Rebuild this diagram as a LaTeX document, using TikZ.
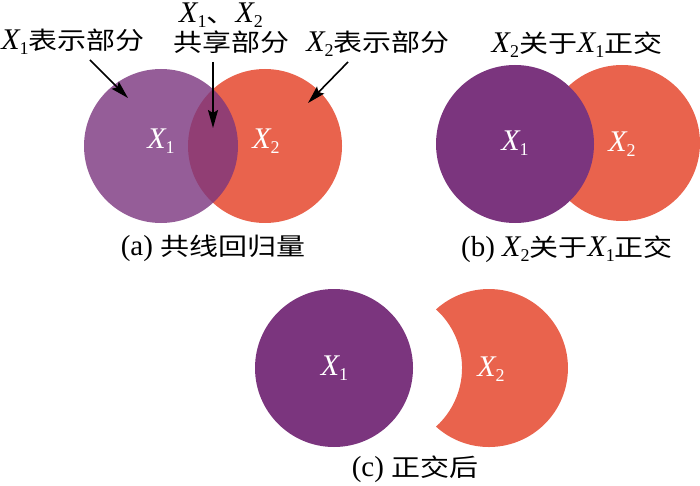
\documentclass[tikz,border=0pt]{standalone}
\usepackage{fontspec}
\setmainfont{Liberation Serif}
\newfontfamily\cjk{Noto Sans CJK SC}
\usetikzlibrary{arrows.meta}
\definecolor{purp}{RGB}{123,53,126}
\definecolor{oran}{RGB}{233,99,77}
\newcommand\zh[1]{{\cjk\scalebox{1}[0.84]{#1}}}
\newcommand\Xv[1]{{\fontsize{30}{30}\selectfont\textit{X}}\kern-1pt\raisebox{-5pt}[8pt][0pt]{\fontsize{18}{18}\selectfont #1}}
\begin{document}
\begin{tikzpicture}[x=1pt,y=1pt,
  lab/.style={font=\fontsize{29}{32}\selectfont, inner sep=0pt, anchor=base},
  inlab/.style={lab, text=white},
  pointer/.style={line width=1.6pt, -{Stealth[length=18pt,width=10pt,inset=3pt]}}]
\useasboundingbox (0,0) rectangle (700,485);

% ---------- (a) ----------
\fill[oran] (265,339) circle (77);
\fill[purp, opacity=0.8] (161,339) circle (77);
\node[inlab] (a1) at (161,336) {\Xv{1}};
\node[inlab] (a2) at (266,336) {\Xv{2}};
\node[lab] (la1) at (73,435) {\Xv{1}\zh{表示部分}};
\node[lab] (lsh1) at (221,462) {\Xv{1}\zh{、}\Xv{2}};
\node[lab] (lsh2) at (231,433) {\zh{共享部分}};
\node[lab] (la2) at (378,433) {\Xv{2}\zh{表示部分}};
\coordinate (p1s) at (90,425);  \coordinate (p1e) at (128,387);
\coordinate (p2s) at (213,423); \coordinate (p2e) at (213,357);
\coordinate (p3s) at (348,423); \coordinate (p3e) at (308,382);
\draw[pointer] (p1s) -- (p1e);
\draw[pointer] (p2s) -- (p2e);
\draw[pointer] (p3s) -- (p3e);
\node[lab] (capa) at (213,230) {(a) \zh{共线回归量}};

% ---------- (b) ----------
\fill[oran] (622,342) circle (78);
\fill[purp] (515,341) circle (79);
\node[inlab] (b1) at (515,334) {\Xv{1}};
\node[inlab] (b2) at (622,333) {\Xv{2}};
\node[lab] (lb) at (577,432) {\Xv{2}\zh{关于}\Xv{1}\zh{正交}};
\node[lab] (capb) at (567,229) {(b) \Xv{2}\zh{关于}\Xv{1}\zh{正交}};

% ---------- (c) ----------
\fill[purp] (334,117) circle (79);
\fill[oran] (436,175.6) arc[start angle=132.1, end angle=-132.1, radius=79]
            arc[start angle=-47.9, end angle=47.9, radius=79] -- cycle;
\node[inlab] (c1) at (334.5,110) {\Xv{1}};
\node[inlab] (c2) at (491,109) {\Xv{2}};
\node[lab] (capc) at (415,9) {(c) \zh{正交后}};
\end{tikzpicture}
\end{document}
